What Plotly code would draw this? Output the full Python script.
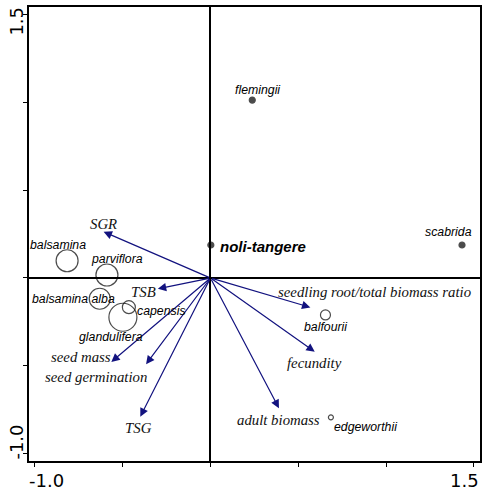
import plotly.graph_objects as go

# ---- data ----
species = ["flemingii", "scabrida", "noli-tangere", "balfourii", "edgeworthii",
           "balsamina", "parviflora", "balsamina alba", "capensis", "glandulifera"]
species_x = [0.238, 1.433, 0.002, 0.655, 0.686, -0.817, -0.590, -0.631, -0.465, -0.499]
species_y = [1.011, 0.1875, 0.1875, -0.21, -0.792, 0.098, 0.017, -0.118, -0.166, -0.223]
species_size = [6, 6, 6, 10, 5, 22, 22, 21, 13, 28]
species_filled = [True, True, True, False, False, False, False, False, False, False]
species_label_x = [0.27, 1.356, 0.044, 0.656, 0.886, -0.871, -0.531, -0.78, -0.277, -0.565]
species_label_y = [1.068, 0.26, 0.178, -0.28, -0.845, 0.1875, 0.106, -0.121, -0.1875, -0.333]

traits = ["SGR", "TSB", "seedling root/total biomass ratio", "fecundity", "adult biomass",
          "seed mass", "seed germination", "TSG"]
trait_x = [-0.609, -0.30, 0.569, 0.594, 0.39, -0.565, -0.367, -0.40]
trait_y = [0.263, -0.061, -0.167, -0.419, -0.74, -0.477, -0.49, -0.788]
trait_label_x = [-0.61, -0.383, 0.934, 0.594, 0.39, -0.74, -0.65, -0.408]
trait_label_y = [0.307, -0.078, -0.078, -0.483, -0.807, -0.447, -0.561, -0.85]

tick_vals = [-1.0, -0.5, 0.0, 0.5, 1.0, 1.5]
tick_labels = ["-1.0", "1.5"]

ARROW = "#12127f"

fig = go.Figure()

fig.add_trace(go.Scatter(
    x=species_x, y=species_y, mode="markers",
    marker=dict(size=species_size,
                color=["black" if f else "rgba(0,0,0,0)" for f in species_filled],
                line=dict(color="black", width=1.2)),
    hoverinfo="text", text=species, showlegend=False))

annotations = []
for t, tx, ty in zip(traits, trait_x, trait_y):
    annotations.append(dict(x=tx, y=ty, ax=0, ay=0, xref="x", yref="y", axref="x", ayref="y",
                            text="", showarrow=True, arrowhead=2, arrowsize=1.4,
                            arrowwidth=1.2, arrowcolor=ARROW, standoff=0, startstandoff=0))
for t, lx, ly in zip(traits, trait_label_x, trait_label_y):
    annotations.append(dict(x=lx, y=ly, xref="x", yref="y", text=t, showarrow=False,
                            xanchor="center", yanchor="middle",
                            font=dict(family="Liberation Serif", size=14.8, color="#111",
                                      style="italic")))
for s, lx, ly in zip(species, species_label_x, species_label_y):
    if s == "noli-tangere":
        annotations.append(dict(x=lx, y=ly, xref="x", yref="y", text="<b>" + s + "</b>",
                                showarrow=False, xanchor="left", yanchor="middle",
                                font=dict(family="Liberation Sans", size=15, color="black",
                                          style="italic")))
    else:
        annotations.append(dict(x=lx, y=ly, xref="x", yref="y", text=s, showarrow=False,
                                xanchor="center", yanchor="middle",
                                font=dict(family="Liberation Sans", size=12.3, color="black",
                                          style="italic")))

# axis end labels
tick_font = dict(family="DejaVu Sans", size=18, color="black")
annotations.append(dict(x=-0.934, y=-0.044, xref="x", yref="paper", text=tick_labels[0],
                        showarrow=False, xanchor="center", yanchor="middle", font=tick_font))
annotations.append(dict(x=1.449, y=-0.044, xref="x", yref="paper", text=tick_labels[1],
                        showarrow=False, xanchor="center", yanchor="middle", font=tick_font))
annotations.append(dict(x=-0.0287, y=0.968, xref="paper", yref="paper", text=tick_labels[1],
                        showarrow=False, xanchor="center", yanchor="middle", textangle=-90,
                        font=tick_font))
annotations.append(dict(x=-0.0287, y=0.0407, xref="paper", yref="paper", text=tick_labels[0],
                        showarrow=False, xanchor="center", yanchor="middle", textangle=-90,
                        font=tick_font))

axis_common = dict(showgrid=False, zeroline=True, zerolinecolor="black", zerolinewidth=1.5,
                   showline=True, mirror=True, linecolor="black", linewidth=1.7,
                   ticks="outside", ticklen=4, tickcolor="black", tickwidth=1.2,
                   tickvals=tick_vals, showticklabels=False, fixedrange=True)

fig.update_layout(
    width=483, height=491,
    margin=dict(l=29, r=1, t=7, b=30),
    plot_bgcolor="white", paper_bgcolor="white",
    xaxis=dict(range=[-1.034, 1.5355], **axis_common),
    yaxis=dict(range=[-1.040, 1.540], **axis_common),
    annotations=annotations,
    showlegend=False,
)

fig.write_html("out.html", config={"displayModeBar": False},
               post_script="document.body.style.margin='0';")
